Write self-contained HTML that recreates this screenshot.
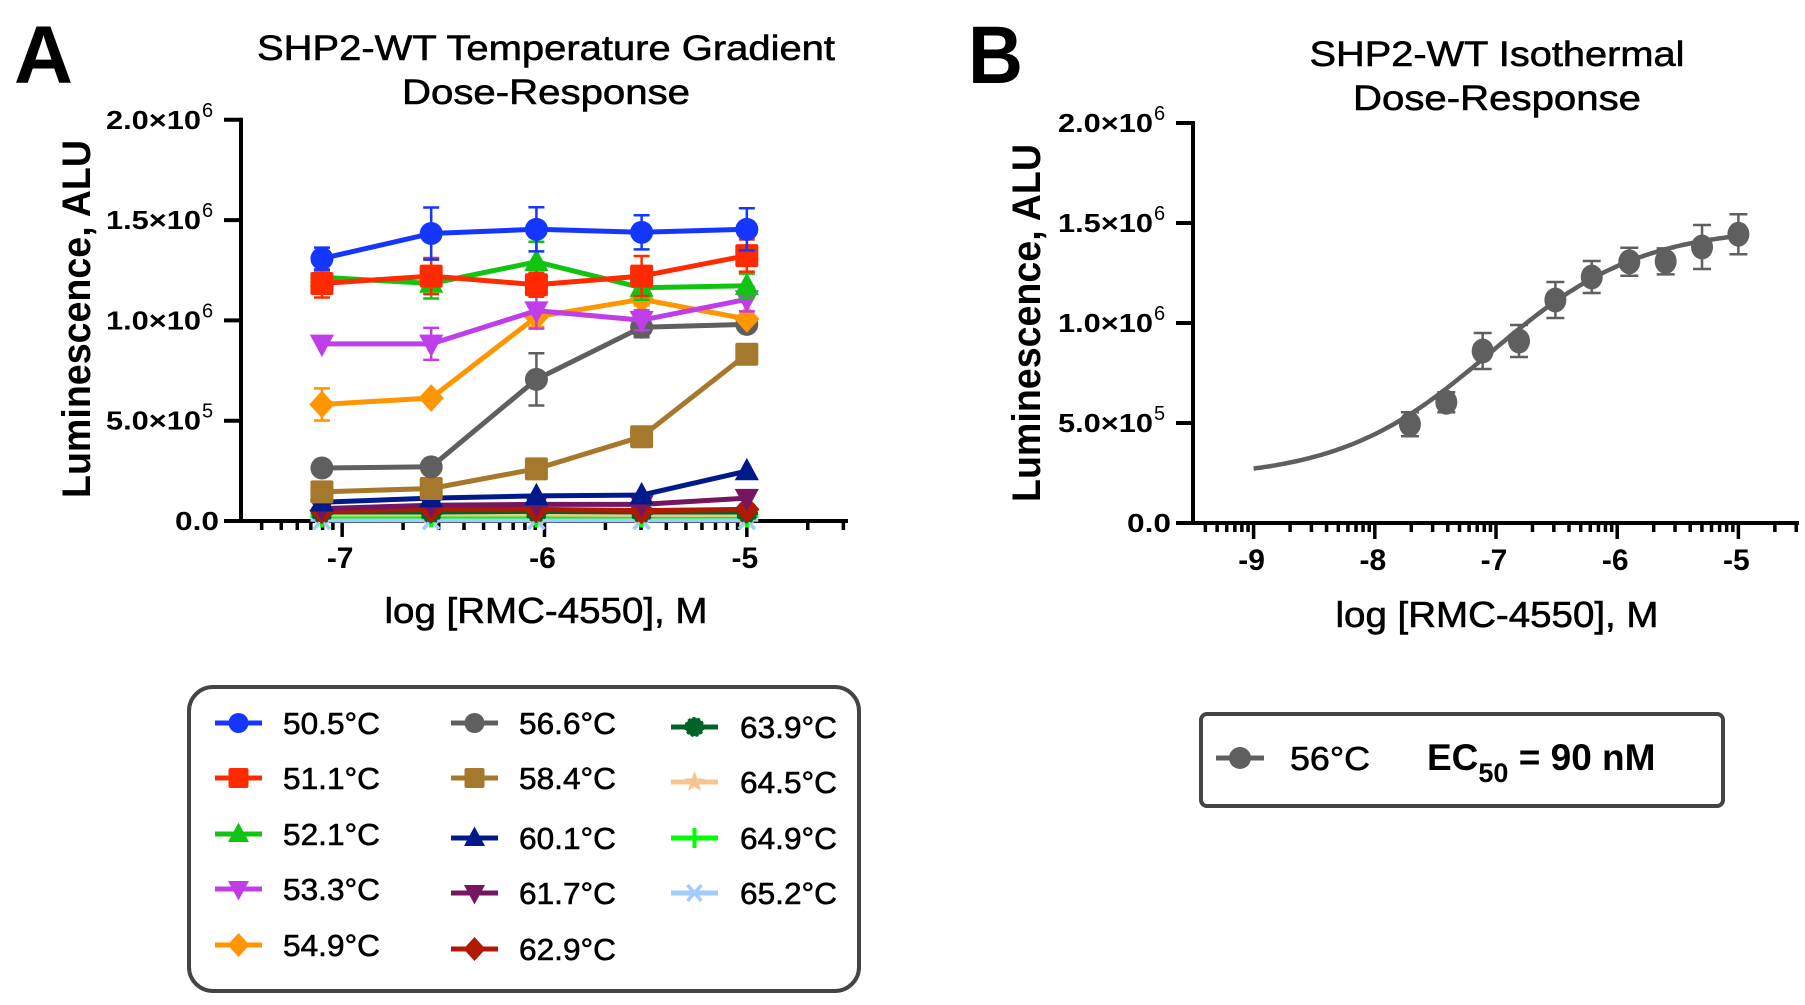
<!DOCTYPE html>
<html><head><meta charset="utf-8">
<style>
html,body{margin:0;padding:0;background:#fff;}
svg{display:block;font-family:"Liberation Sans",Arial,sans-serif;}
.reg{stroke:#000;stroke-width:0.6;}
</style></head>
<body>
<svg id="fig" width="1805" height="1005" viewBox="0 0 1805 1005" xmlns="http://www.w3.org/2000/svg">
<rect width="1805" height="1005" fill="#fff"/>
<g id="panelA"></g>
<g id="panelB"></g>
</svg>
<script>
// ---------- Panel A data ----------
const xA_doses = [-7.1, -6.56, -6.04, -5.52, -5.0];
const seriesNames = ["50.5°C","51.1°C","52.1°C","53.3°C","54.9°C","56.6°C","58.4°C","60.1°C","61.7°C","62.9°C","63.9°C","64.5°C","64.9°C","65.2°C"];
const seriesColors = ["#1436ff","#ff2a00","#12c412","#c03ee8","#ff9500","#5f5f5f","#a6782b","#001a8c","#761560","#b01a00","#006428","#f5c490","#00ff00","#a0ccff"];
const seriesMarkers = ["circle","square","tri","tridown","diamond","circle","square","tri","tridown","diamond","hex","star","plus","aster"];
const v505 = [1.308,1.433,1.454,1.439,1.454];
const e505 = [0.055,0.13,0.11,0.085,0.105];
const v511 = [1.184,1.221,1.178,1.221,1.323];
const e511 = [0.07,0.09,0.06,0.1,0.08];
const v521 = [1.215,1.184,1.292,1.163,1.173];
const e521 = [0.03,0.075,0.1,0.06,0.06];
const v533 = [0.883,0.883,1.049,1.001,1.105];
const e533 = [0,0.08,0.09,0.05,0.06];
const v549 = [0.581,0.613,1.018,1.105,1.007];
const e549 = [0.08,0,0.05,0.03,0.02];
const v566 = [0.264,0.270,0.706,0.966,0.980];
const e566 = [0,0,0.13,0.05,0.03];
const v584 = [0.145,0.162,0.260,0.420,0.831];
const v601 = [0.093,0.114,0.125,0.129,0.249];
const v617 = [0.062,0.079,0.083,0.083,0.114];
const v629 = [0.052,0.058,0.058,0.052,0.058];
const v639 = [0.045,0.045,0.048,0.045,0.045];
const v645 = [0.035,0.035,0.035,0.033,0.033];
const v649 = [0.025,0.025,0.025,0.025,0.025];
const v652 = [0.005,0.005,0.005,0.005,0.005];
const zero5 = [0,0,0,0,0];
const seriesValues = [v505,v511,v521,v533,v549,v566,v584,v601,v617,v629,v639,v645,v649,v652];
const seriesErrors = [e505,e511,e521,e533,e549,e566,zero5,zero5,zero5,zero5,zero5,zero5,zero5,zero5];
const yTickVals = [0,0.5,1.0,1.5,2.0];
const yTickMain = ["0.0","5.0×10","1.0×10","1.5×10","2.0×10"];
const yTickSup = ["","5","6","6","6"];
const xA_ticks = [-7,-6,-5];
const xA_tickLabels = ["-7","-6","-5"];
// ---------- Panel B data ----------
const xB_doses = [-7.71,-7.41,-7.11,-6.81,-6.51,-6.21,-5.90,-5.60,-5.30,-5.0];
const yB_vals = [0.494,0.604,0.86,0.91,1.115,1.23,1.306,1.308,1.38,1.444];
const yB_errs = [0.06,0.05,0.09,0.08,0.09,0.08,0.07,0.065,0.11,0.10];
const fitBottom = 0.22, fitTop = 1.48, fitLogEC50 = -7.05, fitHill = 0.7;
const xB_ticks = [-9,-8,-7,-6,-5];
const xB_tickLabels = ["-9","-8","-7","-6","-5"];

const NS = "http://www.w3.org/2000/svg";
function mk(parent, tag, attrs, text){
  const el = document.createElementNS(NS, tag);
  for (const k in attrs) el.setAttribute(k, attrs[k]);
  if (text !== undefined) el.textContent = text;
  parent.appendChild(el);
  return el;
}
const A = {x0:241, x1:848, lo:-7.5, hi:-4.5, y0:521, ppu:200.6};
const B = {x0:1193, x1:1799, lo:-9.5, hi:-4.5, y0:523, ppu:200};
function xA(v){ return A.x0 + (v - A.lo)/(A.hi - A.lo)*(A.x1 - A.x0); }
function yA(v){ return A.y0 - v*A.ppu; }
function xB(v){ return B.x0 + (v - B.lo)/(B.hi - B.lo)*(B.x1 - B.x0); }
function yB(v){ return B.y0 - v*B.ppu; }

function marker(g, type, cx, cy, r, color){
  let el;
  if (type==="circle") el = mk(g,"circle",{cx:cx,cy:cy,r:r,fill:color});
  else if (type==="square") el = mk(g,"rect",{x:cx-r,y:cy-r,width:2*r,height:2*r,rx:2,fill:color});
  else if (type==="tri") el = mk(g,"polygon",{points:`${cx},${cy-r*1.15} ${cx+r*1.05},${cy+r*0.8} ${cx-r*1.05},${cy+r*0.8}`,fill:color});
  else if (type==="tridown") el = mk(g,"polygon",{points:`${cx},${cy+r*1.15} ${cx+r*1.05},${cy-r*0.8} ${cx-r*1.05},${cy-r*0.8}`,fill:color});
  else if (type==="diamond") el = mk(g,"polygon",{points:`${cx},${cy-r*1.2} ${cx+r*1.1},${cy} ${cx},${cy+r*1.2} ${cx-r*1.1},${cy}`,fill:color});
  else if (type==="hex") el = mk(g,"circle",{cx:cx,cy:cy,r:r*0.9,fill:color,stroke:color,"stroke-width":2,"stroke-dasharray":"3 2"});
  else if (type==="star"){
    let p=[]; for(let i=0;i<10;i++){const a=-Math.PI/2+i*Math.PI/5;const rr=i%2?r*0.45:r*1.1;p.push((cx+rr*Math.cos(a)).toFixed(1)+","+(cy+rr*Math.sin(a)).toFixed(1));}
    el = mk(g,"polygon",{points:p.join(" "),fill:color});
  } else if (type==="plus") el = mk(g,"path",{d:`M${cx-r} ${cy}H${cx+r}M${cx} ${cy-r}V${cy+r}`,stroke:color,"stroke-width":4,fill:"none"});
  else if (type==="aster") el = mk(g,"path",{d:`M${cx-r} ${cy}H${cx+r}M${cx-r*0.7} ${cy-r*0.8}L${cx+r*0.7} ${cy+r*0.8}M${cx-r*0.7} ${cy+r*0.8}L${cx+r*0.7} ${cy-r*0.8}`,stroke:color,"stroke-width":3.5,fill:"none"});
  return el;
}

function drawYAxis(g, ax, yfun, labelX, supX){
  mk(g,"line",{x1:ax,y1:yfun(0)+2,x2:ax,y2:yfun(2.0)-2,stroke:"#000","stroke-width":4});
  yTickVals.forEach((v,i)=>{
    const y = yfun(v);
    const t = mk(g,"line",{x1:ax-17,y1:y,x2:ax,y2:y,stroke:"#000","stroke-width":4});
    
    
    const lab = mk(g,"text",{x:labelX,y:y+9,"text-anchor":"end","font-size":26,"font-weight":"bold"},yTickMain[i]);
    if (yTickSup[i]) { lab.setAttribute("textLength", 95); lab.setAttribute("lengthAdjust","spacingAndGlyphs"); }
    else { lab.setAttribute("x", ax-22); lab.setAttribute("textLength", 44); lab.setAttribute("lengthAdjust","spacingAndGlyphs"); }
    
    
    if (yTickSup[i]) {
      const s = mk(g,"text",{x:supX,y:y-3,"font-size":20,"font-weight":"normal"},yTickSup[i]);
      
      
    }
  });
}
function drawXAxis(g, xfun, lo, hi, yAx, ticks, labels, x0, x1){
  mk(g,"line",{x1:x0-2,y1:yAx,x2:x1,y2:yAx,stroke:"#000","stroke-width":4});
  for (let d=Math.floor(lo); d<hi; d++){
    for (let k=1;k<=9;k++){
      const lv = d + Math.log10(k);
      if (lv < lo+0.01 || lv > hi) continue;
      const x = xfun(lv);
      const major = (k===1);
      const t = mk(g,"line",{x1:x,y1:yAx,x2:x,y2:yAx+(major?16:9),stroke:"#000","stroke-width":3.5});
      
      
    }
  }
  ticks.forEach((v,i)=>{
    const lab = mk(g,"text",{x:xfun(v)-2,y:yAx+47,"text-anchor":"middle","font-size":30,"font-weight":"bold"},labels[i]);
    
    
  });
}

// ---------- Panel A ----------
const gA = document.getElementById("panelA");
let t;
t = mk(gA,"text",{x:14,y:83,"font-size":82,"font-weight":"bold",textLength:59,lengthAdjust:"spacingAndGlyphs"},"A");
 
t = mk(gA,"text",{x:546,y:60,"text-anchor":"middle","font-size":35,class:"reg",textLength:578,lengthAdjust:"spacingAndGlyphs"},"SHP2-WT Temperature Gradient");
 
t = mk(gA,"text",{x:546,y:104,"text-anchor":"middle","font-size":35,class:"reg",textLength:288,lengthAdjust:"spacingAndGlyphs"},"Dose-Response");
 
t = mk(gA,"text",{x:0,y:0,"text-anchor":"middle","font-size":40,"font-weight":"bold",textLength:358,lengthAdjust:"spacingAndGlyphs",transform:"translate(90,319) rotate(-90)"},"Luminescence, ALU");
 
t = mk(gA,"text",{x:546,y:623,"text-anchor":"middle","font-size":36,class:"reg",textLength:323,lengthAdjust:"spacingAndGlyphs"},"log [RMC-4550], M");
 

drawYAxis(gA, A.x0, yA, A.x0-40, A.x0-39);
drawXAxis(gA, xA, A.lo, A.hi, A.y0, xA_ticks, xA_tickLabels, A.x0, A.x1);

for (let s=seriesValues.length-1; s>=0; s--){
  const g = mk(gA,"g",{});
  
  
  const col = seriesColors[s];
  const vals = seriesValues[s], errs = seriesErrors[s];
  vals.forEach((v,i)=>{
    if (errs[i] > 0){
      const x = xA(xA_doses[i]);
      const eb = mk(g,"path",{d:`M${x} ${yA(v-errs[i])}V${yA(v+errs[i])}M${x-8} ${yA(v-errs[i])}H${x+8}M${x-8} ${yA(v+errs[i])}H${x+8}`,stroke:col,"stroke-width":2.5,fill:"none"});
      
      
    }
  });
  const pts = vals.map((v,i)=>xA(xA_doses[i]).toFixed(1)+","+yA(v).toFixed(1)).join(" ");
  const ln = mk(g,"polyline",{points:pts,fill:"none",stroke:col,"stroke-width":5,"stroke-linejoin":"round"});
  
  
  vals.forEach((v,i)=>{
    const m = marker(g, seriesMarkers[s], xA(xA_doses[i]), yA(v), 11.5, col);
    
    
  });
}

// Legend A
const legA = mk(gA,"g",{});


mk(legA,"rect",{x:189,y:687,width:670,height:304,rx:24,fill:"#fff",stroke:"#444","stroke-width":4});
const legColX = [215,451,671];
const legTextX = [283,519,740];
const legRowY = [723,778,834,889,945];
seriesNames.forEach((nm,i)=>{
  const c = Math.floor(i/5), r = i%5;
  const ge = mk(legA,"g",{});
  
  
  const y = legRowY[r] + (c===2?4:(c===1 && r>=2?4:0));
  mk(ge,"line",{x1:legColX[c],y1:y,x2:legColX[c]+47,y2:y,stroke:seriesColors[i],"stroke-width":5});
  marker(ge, seriesMarkers[i], legColX[c]+23.5, y, 10, seriesColors[i]);
  mk(ge,"text",{x:legTextX[c],y:y+11,"font-size":31,class:"reg",textLength:97,lengthAdjust:"spacingAndGlyphs"},nm);
});

// ---------- Panel B ----------
const gB = document.getElementById("panelB");
t = mk(gB,"text",{x:968,y:83,"font-size":82,"font-weight":"bold",textLength:55,lengthAdjust:"spacingAndGlyphs"},"B");
 
t = mk(gB,"text",{x:1497,y:66,"text-anchor":"middle","font-size":35,class:"reg",textLength:375,lengthAdjust:"spacingAndGlyphs"},"SHP2-WT Isothermal");
 
t = mk(gB,"text",{x:1497,y:110,"text-anchor":"middle","font-size":35,class:"reg",textLength:288,lengthAdjust:"spacingAndGlyphs"},"Dose-Response");
 
t = mk(gB,"text",{x:0,y:0,"text-anchor":"middle","font-size":40,"font-weight":"bold",textLength:358,lengthAdjust:"spacingAndGlyphs",transform:"translate(1040,323) rotate(-90)"},"Luminescence, ALU");
 
t = mk(gB,"text",{x:1497,y:627,"text-anchor":"middle","font-size":36,class:"reg",textLength:323,lengthAdjust:"spacingAndGlyphs"},"log [RMC-4550], M");
 

drawYAxis(gB, B.x0, yB, B.x0-40, B.x0-39);
drawXAxis(gB, xB, B.lo, B.hi, B.y0, xB_ticks, xB_tickLabels, B.x0, B.x1);

const gFit = mk(gB,"g",{});


let fp = [];
for (let i=0;i<=200;i++){
  const lx = -9 + i*4/200;
  const v = fitBottom + (fitTop-fitBottom)/(1+Math.pow(10,(fitLogEC50-lx)*fitHill));
  fp.push(xB(lx).toFixed(1)+","+yB(v).toFixed(1));
}
const fitLine = mk(gFit,"polyline",{points:fp.join(" "),fill:"none",stroke:"#5f5f5f","stroke-width":4.5});


xB_doses.forEach((d,i)=>{
  const x = xB(d), v = yB_vals[i], e = yB_errs[i];
  const eb = mk(gFit,"path",{d:`M${x} ${yB(v-e)}V${yB(v+e)}M${x-9} ${yB(v-e)}H${x+9}M${x-9} ${yB(v+e)}H${x+9}`,stroke:"#5f5f5f","stroke-width":2.5,fill:"none"});
  
  
  const m = mk(gFit,"ellipse",{cx:x,cy:yB(v),rx:11,ry:12.5,fill:"#5f5f5f"});
  
  
});

// Legend B
const legB = mk(gB,"g",{});


mk(legB,"rect",{x:1201,y:714,width:522,height:92,rx:6,fill:"#fff",stroke:"#444","stroke-width":4});
mk(legB,"line",{x1:1216,y1:758,x2:1264,y2:758,stroke:"#5f5f5f","stroke-width":5});
mk(legB,"circle",{cx:1240,cy:758,r:11,fill:"#5f5f5f"});
t = mk(legB,"text",{x:1290,y:770,"font-size":33,class:"reg",textLength:80,lengthAdjust:"spacingAndGlyphs"},"56°C");
 
t = mk(legB,"text",{x:1427,y:770,"font-size":37,"font-weight":"bold"});
 
mk(t,"tspan",{},"EC");
mk(t,"tspan",{dy:12,"font-size":27},"50");
mk(t,"tspan",{dy:-12}," = 90 nM");
</script>
</body></html>
